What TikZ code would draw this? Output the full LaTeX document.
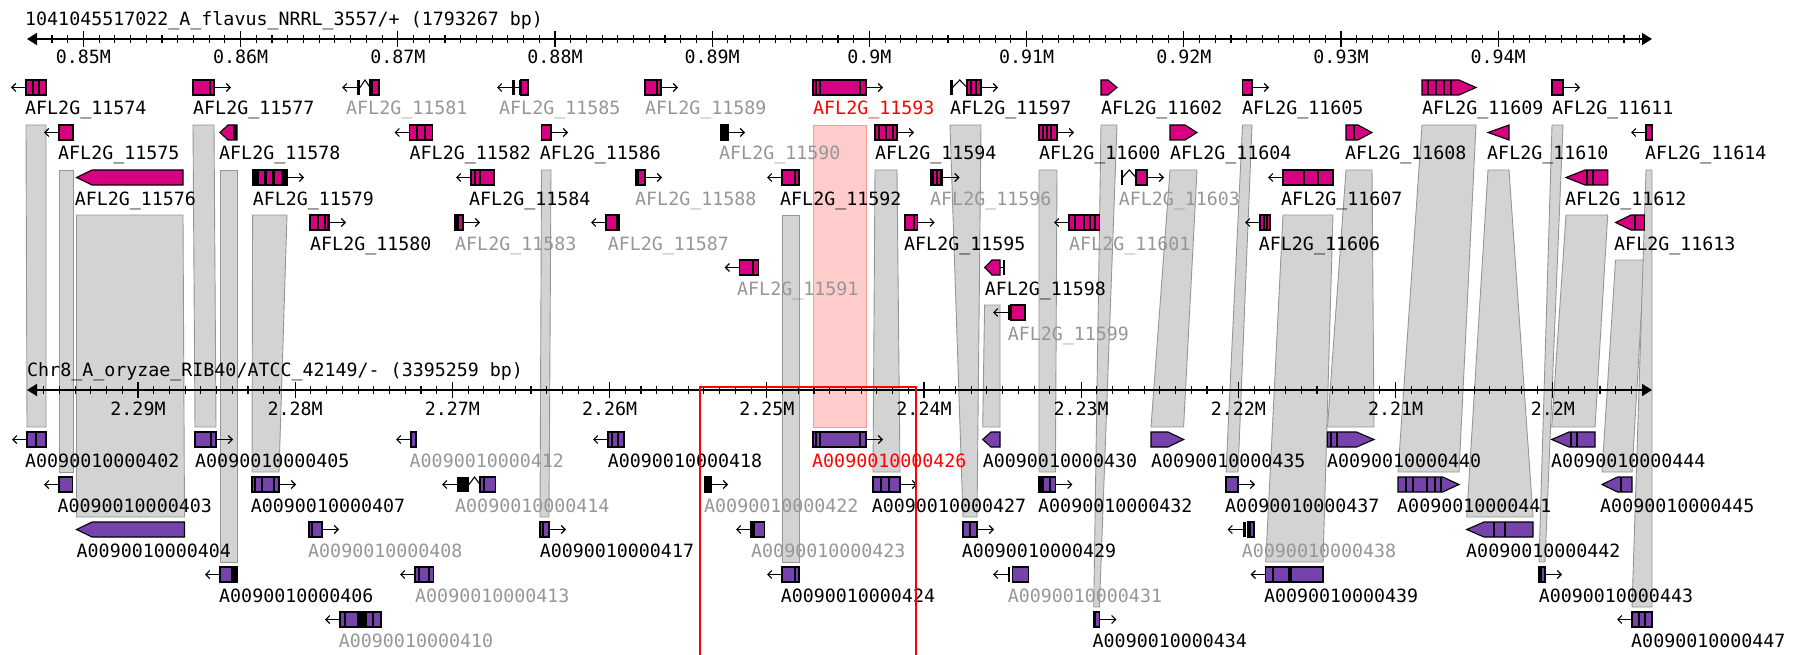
\documentclass[tikz,border=0pt]{standalone}
\usepackage{fontspec}
\usepackage{tikz}
\usetikzlibrary{arrows.meta}
\newfontfamily\gbfont{DejaVu Sans Mono}
\newcommand{\lblfont}{\gbfont\fontsize{18.3pt}{20pt}\selectfont}
\definecolor{flavus}{RGB}{214,0,128}
\definecolor{oryzae}{RGB}{118,66,172}
\definecolor{bandgray}{RGB}{211,211,211}
\definecolor{bandedge}{RGB}{150,150,150}
\definecolor{hitpink}{RGB}{255,204,204}
\definecolor{hitedge}{RGB}{255,150,150}
\definecolor{dimtext}{RGB}{150,150,150}
\definecolor{hitred}{RGB}{255,0,0}
\newcommand{\gbox}[4]{\draw[#1] (#2,#4-7.5) rectangle (#3,#4+7.5);}
\newcommand{\gptr}[5]{\draw[#1] (#2,#4-7.5) -- (#5,#4-7.5) -- (#3,#4) -- (#5,#4+7.5) -- (#2,#4+7.5) -- cycle;}
\newcommand{\gptl}[5]{\draw[#1] (#3,#4-7.5) -- (#5,#4-7.5) -- (#2,#4) -- (#5,#4+7.5) -- (#3,#4+7.5) -- cycle;}
\newcommand{\gblock}[3]{\fill (#1,#3-7.5) rectangle (#2,#3+7.5);}
\newcommand{\gstripe}[2]{\fill (#1-1,#2-7.5) rectangle (#1+1,#2+7.5);}
\newcommand{\gstripes}[2]{\foreach \s in {#2} {\gstripe{\s}{#1}}}
\newcommand{\gfwd}[2]{\draw[strand] (#1,#2) -- ++(17,0);}
\newcommand{\grev}[2]{\draw[strand] (#1,#2) -- ++(-15,0);}
\newcommand{\gcaret}[3]{\draw[line width=1.1pt] (#1,#3) -- ({(#1+#2)/2},#3-7.5) -- (#2,#3);}
\newcommand{\syn}[7]{\draw[#1] (#3,#2) -- (#4,#2) -- (#7,#5) -- (#6,#5) -- cycle;}

\begin{document}
\begin{tikzpicture}[x=1pt,y=-1pt]
\tikzstyle{band}=[fill=bandgray,draw=bandedge,line width=0.9pt]
\tikzstyle{hit}=[fill=hitpink,draw=hitedge,line width=0.9pt]
\tikzstyle{fl}=[fill=flavus,draw=black,line width=1.1pt]
\tikzstyle{oz}=[fill=oryzae,draw=black,line width=1.1pt]
\tikzstyle{blk}=[fill=black,draw=black,line width=1.1pt]
\tikzstyle{strand}=[line width=1.1pt,-{Straight Barb[length=4pt,width=8pt]}]
\tikzstyle{lbl}=[anchor=base west,inner sep=0pt,font=\lblfont]
\tikzstyle{dim}=[text=dimtext]
\tikzstyle{hot}=[text=hitred]
\tikzstyle{ruler}=[line width=1.8pt,{Triangle[length=10pt,width=12pt]}-{Triangle[length=10pt,width=12pt]}]
\tikzstyle{tick}=[line width=1.1pt]
\useasboundingbox (0,0) rectangle (1806,655);

\syn{band}{125}{26}{46}{427}{27}{46}
\syn{band}{170}{59}{73}{472}{59}{73}
\syn{band}{215}{76.5}{183}{517}{76.5}{184.5}
\syn{band}{125}{193}{214}{427}{195}{216}
\syn{band}{170}{220}{237}{562}{220}{237}
\syn{band}{215}{252.6}{287}{472}{252}{279}
\syn{band}{170}{541.5}{551}{517}{540}{549}
\syn{band}{215}{782}{799}{562}{782}{799}
\syn{hit}{125}{813}{866}{427}{813}{866}
\syn{band}{170}{875}{897}{472}{873}{900}
\syn{band}{125}{950}{981}{517}{963}{977}
\syn{band}{305}{984.6}{1000}{427}{982.7}{1000}
\syn{band}{170}{1039}{1057}{472}{1039}{1055.4}
\syn{band}{125}{1101}{1117}{607}{1093.7}{1099.4}
\syn{band}{170}{1170}{1197}{427}{1151}{1183.6}
\syn{band}{125}{1242.5}{1252}{472}{1226}{1238}
\syn{band}{215}{1283}{1333}{562}{1265.7}{1323}
\syn{band}{170}{1346}{1372}{427}{1327.5}{1374}
\syn{band}{125}{1422}{1476}{472}{1398}{1459}
\syn{band}{170}{1488}{1509}{517}{1466.7}{1533}
\syn{band}{125}{1552}{1563}{562}{1539}{1545}
\syn{band}{215}{1566}{1607.7}{427}{1551.7}{1595}
\syn{band}{260}{1615.5}{1644.4}{472}{1602}{1632}
\syn{band}{170}{1646}{1652}{607}{1632}{1652}

\node[lbl] (ttl) at (25,25.5) {1041045517022\_A\_flavus\_NRRL\_3557/+ (1793267 bp)};
\coordinate (fl0) at (27,39);
\coordinate (fl1) at (1652,39);
\draw[ruler] (fl0) -- (fl1);
\foreach \i in {-3,...,99} \draw[tick] ({83.4+15.72*\i},35) -- ++(0,8);
\foreach \lab [count=\i from 0] in {0.85M,0.86M,0.87M,0.88M,0.89M,0.9M,0.91M,0.92M,0.93M,0.94M} {
  \draw[tick] ({83.4+157.2*\i},31) -- ++(0,16);
  \node[anchor=base,inner sep=0pt,font=\lblfont] (ft\i) at ({83.4+157.2*\i},63.5) {\lab};
}

\node[lbl] (ttl2) at (27,376.5) {Chr8\_A\_oryzae\_RIB40/ATCC\_42149/- (3395259 bp)};
\coordinate (oz0) at (27,390);
\coordinate (oz1) at (1652,390);
\draw[ruler] (oz0) -- (oz1);
\foreach \i in {-6,...,95} \draw[tick] ({138+15.72*\i},386) -- ++(0,8);
\foreach \lab [count=\i from 0] in {2.29M,2.28M,2.27M,2.26M,2.25M,2.24M,2.23M,2.22M,2.21M,2.2M} {
  \draw[tick] ({138+157.2*\i},382) -- ++(0,16);
  \node[anchor=base,inner sep=0pt,font=\lblfont] (ot\i) at ({138+157.2*\i},415) {\lab};
}

\grev{26}{87.5}\gbox{fl}{26}{46}{87.5}\gstripes{87.5}{33,39}
\gbox{fl}{193}{214}{87.5}\gstripes{87.5}{210}\gfwd{214}{87.5}
\grev{357}{87.5}\gblock{357}{360}{87.5}\gcaret{360}{370}{87.5}\gbox{fl}{370}{379}{87.5}\gstripes{87.5}{372}
\grev{512}{87.5}\gblock{512}{514.5}{87.5}\draw[tick] (514.5,87.5) -- (518.5,87.5);\gblock{518.5}{521}{87.5}\gbox{fl}{521}{528}{87.5}
\gbox{fl}{645}{661}{87.5}\gstripes{87.5}{657}\gfwd{661}{87.5}
\gbox{fl}{813}{866}{87.5}\gstripes{87.5}{816,820,860}\gfwd{866}{87.5}
\gblock{950}{952.5}{87.5}\gcaret{952.5}{967}{87.5}\gbox{fl}{967}{981}{87.5}\gstripes{87.5}{971,976}\gfwd{981}{87.5}
\gptr{fl}{1101}{1117}{87.5}{1108}
\gbox{fl}{1242.5}{1252}{87.5}\gfwd{1252}{87.5}
\gptr{fl}{1422}{1476}{87.5}{1459}\gstripes{87.5}{1428,1436,1443.5,1451}
\gbox{fl}{1552}{1563}{87.5}\gfwd{1563}{87.5}

\grev{59}{132.5}\gbox{fl}{59}{73}{132.5}
\gptl{fl}{220}{237}{132.5}{228}\gblock{233}{237}{132.5}
\grev{409.5}{132.5}\gbox{fl}{409.5}{432.5}{132.5}\gstripes{132.5}{416.5,424.5}
\gbox{fl}{541.5}{551}{132.5}\gfwd{551}{132.5}
\gbox{blk}{720.5}{728}{132.5}\gfwd{728}{132.5}
\gbox{fl}{875}{897}{132.5}\gstripes{132.5}{879,886,893}\gfwd{897}{132.5}
\gbox{fl}{1039}{1057}{132.5}\gstripes{132.5}{1043,1047,1051}\gfwd{1057}{132.5}
\gptr{fl}{1170}{1197}{132.5}{1185}
\gptr{fl}{1346}{1372}{132.5}{1358}\gstripes{132.5}{1354}
\gptl{fl}{1488}{1509}{132.5}{1509}
\grev{1646}{132.5}\gbox{fl}{1646}{1652}{132.5}

\gptl{fl}{76.5}{183}{177.5}{92}
\gbox{fl}{252.6}{287}{177.5}\gblock{252.6}{259}{177.5}\gblock{264}{267}{177.5}\gblock{272}{275}{177.5}\gblock{281}{287}{177.5}\gfwd{287}{177.5}
\grev{471}{177.5}\gbox{fl}{471}{494}{177.5}\gstripes{177.5}{475,480}
\gbox{fl}{636}{645}{177.5}\gblock{636}{639}{177.5}\gfwd{645}{177.5}
\grev{782}{177.5}\gbox{fl}{782}{799}{177.5}\gstripes{177.5}{795}
\gbox{fl}{931}{942.5}{177.5}\gstripes{177.5}{932.5,936.5,941}\gfwd{942.5}{177.5}
\gblock{1120.5}{1122.5}{177.5}\gcaret{1122.5}{1136}{177.5}\gbox{fl}{1136}{1147}{177.5}\gfwd{1147}{177.5}
\grev{1283}{177.5}\gbox{fl}{1283}{1333}{177.5}\gstripes{177.5}{1303.5,1318}
\gptl{fl}{1566}{1607.7}{177.5}{1585}\gstripes{177.5}{1587,1593}

\gbox{fl}{310}{329}{222.5}\gstripes{222.5}{317.5,324.5,327.5}\gfwd{329}{222.5}
\gbox{fl}{455}{463}{222.5}\gblock{455}{458.5}{222.5}\gfwd{463}{222.5}
\grev{606}{222.5}\gbox{fl}{606}{619}{222.5}\gstripes{222.5}{616.5}
\gbox{fl}{905}{917.6}{222.5}\gstripes{222.5}{914}\gfwd{917.6}{222.5}
\grev{1069}{222.5}\gbox{fl}{1069}{1099.4}{222.5}\gstripes{222.5}{1074.5,1084,1090,1094.5}
\grev{1260}{222.5}\gbox{fl}{1260}{1270}{222.5}\gstripes{222.5}{1263.5,1267}
\gptl{fl}{1615.5}{1644.4}{222.5}{1631}\gstripes{222.5}{1635}

\grev{739.7}{267.5}\gbox{fl}{739.7}{758.8}{267.5}\gstripes{267.5}{753}
\gptl{fl}{984.6}{1000}{267.5}{992}\draw[tick] (1000,267.5) -- (1003,267.5);\gblock{1003}{1005}{267.5}

\grev{1008}{312.5}\gblock{1008}{1010}{312.5}\gbox{fl}{1011}{1025}{312.5}

\grev{27}{439.5}\gbox{oz}{27}{46}{439.5}\gstripes{439.5}{36}
\gbox{oz}{195}{216}{439.5}\gstripes{439.5}{210.5}\gfwd{216}{439.5}
\grev{411}{439.5}\gbox{oz}{411}{416}{439.5}
\grev{608}{439.5}\gbox{oz}{608}{624}{439.5}\gstripes{439.5}{612,617.5}
\gbox{oz}{813}{866}{439.5}\gstripes{439.5}{816,820,860}\gfwd{866}{439.5}
\gptl{oz}{982.7}{1000}{439.5}{991}
\gptr{oz}{1151}{1183.6}{439.5}{1168}
\gptr{oz}{1327.5}{1374}{439.5}{1356.5}\gstripes{439.5}{1331,1337}
\gptl{oz}{1551.7}{1595}{439.5}{1569}\gstripes{439.5}{1571,1577}

\grev{59}{484.5}\gbox{oz}{59}{72.7}{484.5}
\gbox{oz}{252}{279}{484.5}\gstripes{484.5}{254.5,262,273.6}\gfwd{279}{484.5}
\grev{457}{484.5}\gblock{457}{469}{484.5}\gcaret{469}{480}{484.5}\gbox{oz}{480}{495.6}{484.5}\gstripes{484.5}{484}
\gbox{blk}{705}{711}{484.5}\gfwd{711}{484.5}
\gbox{oz}{873}{900}{484.5}\gstripes{484.5}{881,889}\gfwd{900}{484.5}
\gbox{oz}{1039}{1055.4}{484.5}\gblock{1039}{1044}{484.5}\gstripes{484.5}{1050}\gfwd{1055.4}{484.5}
\gbox{oz}{1226}{1238}{484.5}\gfwd{1238}{484.5}
\gptr{oz}{1398}{1459}{484.5}{1442.7}\gstripes{484.5}{1405.5,1413,1427,1435,1441}
\gptl{oz}{1602}{1632}{484.5}{1617.5}\gstripes{484.5}{1621}

\gptl{oz}{76.5}{184.5}{529.5}{92}
\gbox{oz}{309}{322}{529.5}\gstripes{529.5}{312}\gfwd{322}{529.5}
\gbox{oz}{540}{549}{529.5}\gstripes{529.5}{542.5}\gfwd{549}{529.5}
\grev{751}{529.5}\gbox{oz}{751}{764.6}{529.5}\gblock{751}{755}{529.5}
\gbox{oz}{963}{977}{529.5}\gstripes{529.5}{970}\gfwd{977}{529.5}
\grev{1242.5}{529.5}\gblock{1242.5}{1245.5}{529.5}\gbox{oz}{1248}{1254}{529.5}\gstripes{529.5}{1250}
\gptl{oz}{1466.7}{1533}{529.5}{1484}\gstripes{529.5}{1493.7,1505}

\grev{220}{574.5}\gbox{oz}{220}{237}{574.5}\gblock{231}{237}{574.5}
\grev{415}{574.5}\gbox{oz}{415}{433.6}{574.5}\gstripes{574.5}{419,429}
\grev{782}{574.5}\gbox{oz}{782}{799}{574.5}\gstripes{574.5}{795}
\grev{1008}{574.5}\gblock{1008}{1010}{574.5}\gbox{oz}{1012.5}{1028.6}{574.5}
\grev{1265.7}{574.5}\gbox{oz}{1265.7}{1323}{574.5}\gstripes{574.5}{1273}\gblock{1288}{1292}{574.5}
\gbox{oz}{1539}{1545}{574.5}\gblock{1539}{1542}{574.5}\gfwd{1545}{574.5}

\grev{340}{619.5}\gbox{oz}{340}{381}{619.5}\gstripes{619.5}{344.5,373}\gblock{357}{367}{619.5}
\gbox{oz}{1093.7}{1099.4}{619.5}\gblock{1093.7}{1096}{619.5}\gfwd{1099.4}{619.5}
\grev{1632}{619.5}\gbox{oz}{1632}{1652}{619.5}\gstripes{619.5}{1638.5,1644.5}

\node[lbl] (g11574) at (25,115) {AFL2G\_11574};
\node[lbl] (g11577) at (193,115) {AFL2G\_11577};
\node[lbl,dim] (g11581) at (346,115) {AFL2G\_11581};
\node[lbl,dim] (g11585) at (499,115) {AFL2G\_11585};
\node[lbl,dim] (g11589) at (645,115) {AFL2G\_11589};
\node[lbl,hot] (g11593) at (813,115) {AFL2G\_11593};
\node[lbl] (g11597) at (950,115) {AFL2G\_11597};
\node[lbl] (g11602) at (1101,115) {AFL2G\_11602};
\node[lbl] (g11605) at (1242,115) {AFL2G\_11605};
\node[lbl] (g11609) at (1422,115) {AFL2G\_11609};
\node[lbl] (g11611) at (1552,115) {AFL2G\_11611};

\node[lbl] (g11575) at (58,160) {AFL2G\_11575};
\node[lbl] (g11578) at (219,160) {AFL2G\_11578};
\node[lbl] (g11582) at (409.5,160) {AFL2G\_11582};
\node[lbl] (g11586) at (539.6,160) {AFL2G\_11586};
\node[lbl,dim] (g11590) at (719,160) {AFL2G\_11590};
\node[lbl] (g11594) at (875,160) {AFL2G\_11594};
\node[lbl] (g11600) at (1039,160) {AFL2G\_11600};
\node[lbl] (g11604) at (1170,160) {AFL2G\_11604};
\node[lbl] (g11608) at (1345,160) {AFL2G\_11608};
\node[lbl] (g11610) at (1487,160) {AFL2G\_11610};
\node[lbl] (g11614) at (1645,160) {AFL2G\_11614};

\node[lbl] (g11576) at (74.6,205) {AFL2G\_11576};
\node[lbl] (g11579) at (252.6,205) {AFL2G\_11579};
\node[lbl] (g11584) at (469,205) {AFL2G\_11584};
\node[lbl,dim] (g11588) at (635,205) {AFL2G\_11588};
\node[lbl] (g11592) at (780,205) {AFL2G\_11592};
\node[lbl,dim] (g11596) at (930,205) {AFL2G\_11596};
\node[lbl,dim] (g11603) at (1118.6,205) {AFL2G\_11603};
\node[lbl] (g11607) at (1281,205) {AFL2G\_11607};
\node[lbl] (g11612) at (1565,205) {AFL2G\_11612};

\node[lbl] (g11580) at (310,250) {AFL2G\_11580};
\node[lbl,dim] (g11583) at (455,250) {AFL2G\_11583};
\node[lbl,dim] (g11587) at (607.6,250) {AFL2G\_11587};
\node[lbl] (g11595) at (904,250) {AFL2G\_11595};
\node[lbl,dim] (g11601) at (1069,250) {AFL2G\_11601};
\node[lbl] (g11606) at (1258.7,250) {AFL2G\_11606};
\node[lbl] (g11613) at (1614,250) {AFL2G\_11613};

\node[lbl,dim] (g11591) at (737,295) {AFL2G\_11591};
\node[lbl] (g11598) at (984.6,295) {AFL2G\_11598};
\node[lbl,dim] (g11599) at (1007.6,340) {AFL2G\_11599};

\node[lbl] (a402) at (25,467) {A0090010000402};
\node[lbl] (a405) at (195,467) {A0090010000405};
\node[lbl,dim] (a412) at (409.5,467) {A0090010000412};
\node[lbl] (a418) at (607.7,467) {A0090010000418};
\node[lbl,hot] (a426) at (812,467) {A0090010000426};
\node[lbl] (a430) at (982.7,467) {A0090010000430};
\node[lbl] (a435) at (1151,467) {A0090010000435};
\node[lbl] (a440) at (1326.8,467) {A0090010000440};
\node[lbl] (a444) at (1551,467) {A0090010000444};

\node[lbl] (a403) at (57.4,512) {A0090010000403};
\node[lbl] (a407) at (250.7,512) {A0090010000407};
\node[lbl,dim] (a414) at (455,512) {A0090010000414};
\node[lbl,dim] (a422) at (704,512) {A0090010000422};
\node[lbl] (a427) at (871.7,512) {A0090010000427};
\node[lbl] (a432) at (1038,512) {A0090010000432};
\node[lbl] (a437) at (1225,512) {A0090010000437};
\node[lbl] (a441) at (1397,512) {A0090010000441};
\node[lbl] (a445) at (1600,512) {A0090010000445};

\node[lbl] (a404) at (76.5,557) {A0090010000404};
\node[lbl,dim] (a408) at (308,557) {A0090010000408};
\node[lbl] (a417) at (539.6,557) {A0090010000417};
\node[lbl,dim] (a423) at (751,557) {A0090010000423};
\node[lbl] (a429) at (961.7,557) {A0090010000429};
\node[lbl,dim] (a438) at (1241.7,557) {A0090010000438};
\node[lbl] (a442) at (1466,557) {A0090010000442};

\node[lbl] (a406) at (219,602) {A0090010000406};
\node[lbl,dim] (a413) at (415,602) {A0090010000413};
\node[lbl] (a424) at (780.6,602) {A0090010000424};
\node[lbl,dim] (a431) at (1007.6,602) {A0090010000431};
\node[lbl] (a439) at (1263.8,602) {A0090010000439};
\node[lbl] (a443) at (1538.6,602) {A0090010000443};

\node[lbl,dim] (a410) at (338.7,647) {A0090010000410};
\node[lbl] (a434) at (1092.5,647) {A0090010000434};
\node[lbl] (a447) at (1631,647) {A0090010000447};

\draw[hitred,line width=1.3pt] (700,660) -- (700,387) -- (916,387) -- (916,660);
\end{tikzpicture}
\end{document}
